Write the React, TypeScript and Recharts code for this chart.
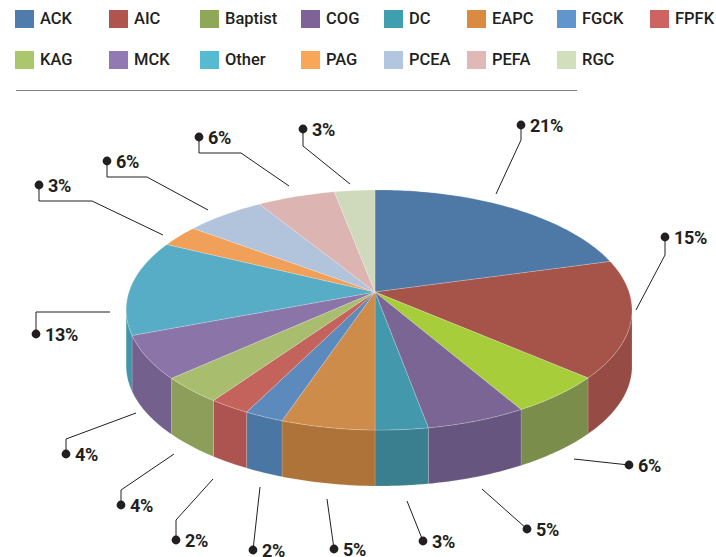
import React from "react";
import { PieChart, Pie, Legend } from "recharts";

const denominations = ["ACK", "AIC", "Baptist", "COG", "DC", "EAPC", "FGCK", "FPFK", "KAG", "MCK", "Other", "PAG", "PCEA", "PEFA", "RGC"];
// slice sizes as drawn, they do not always agree with the printed labels
const sliceSizes = [20.7, 15.6, 5.3, 5.5, 2.9, 5.2, 2.2, 2.3, 3.6, 5.9, 13, 3, 6, 5.8, 3];
const shareLabels = ["21%", "15%", "6%", "5%", "3%", "5%", "2%", "2%", "4%", "4%", "13%", "3%", "6%", "6%", "3%"];

const legendColors = ["#4F7CAC", "#B0554E", "#8FA858", "#7E6399", "#3F9FB0", "#D98B42", "#6195CC", "#CE6462", "#ABC76C", "#9379B3", "#55BBD3", "#F9A658", "#B3C6E0", "#E0B9B6", "#D2DFBD"];
const topColors = ["#4E79A6", "#A6544A", "#A7CE3A", "#7B6594", "#4498AC", "#CD8C4A", "#5D8ABD", "#C4625C", "#A8BE6E", "#8B74A8", "#58ADC6", "#F0A059", "#B2C3DC", "#DCB4B2", "#CFDABD"];
const wallColors = ["#3F6285", "#964C44", "#7A8D4B", "#66557E", "#3A7F8F", "#AE7339", "#4A76A3", "#AD5450", "#8C9E5A", "#73608D", "#3F95AB", "#C98444", "#8E9DB3", "#B09090", "#A5AF97"];

const legendLeft = [15, 109, 200, 301, 384, 467, 557, 650];
const FONT = "Roboto, sans-serif";
const INK = "#231F20";

// leader lines run from the dot out towards the slice
const leaders = [
  [[521, 125], [521, 140], [496, 194]],
  [[665, 237], [665, 255], [636, 310]],
  [[629, 465], [574, 459]],
  [[527, 529], [482, 489]],
  [[423, 541], [407, 501]],
  [[334, 549], [327, 499]],
  [[253, 550], [260, 487]],
  [[176, 540], [176, 520], [213, 479]],
  [[121, 505], [121, 490], [174, 454]],
  [[66, 454], [66, 439], [136, 413]],
  [[36, 334], [36, 312], [110, 312]],
  [[39, 185], [39, 201], [92, 201], [163, 235]],
  [[107, 161], [107, 177], [147, 177], [208, 210]],
  [[199, 137], [199, 153], [241, 153], [289, 186]],
  [[303, 129], [303, 146], [350, 184]],
];

const tableData = denominations.map((name, i) => ({
  name,
  value: sliceSizes[i],
  fill: legendColors[i],
  top: topColors[i],
  wall: wallColors[i],
}));

// perspective projection of the round pie, the centre sits above the middle of the ellipse
const RX = 250;
const RY = 117.3;
const TILT = 0.15;
const SKEW = -0.016;
const DEPTH = 56;

function rimPoint(cx: number, cy: number, deg: number) {
  const a = (deg * Math.PI) / 180;
  const X = Math.cos(a);
  const Y = Math.sin(a);
  const w = 1 + TILT * Y + SKEW * X;
  return { x: cx + (RX * X) / w, y: cy - (RY * Y) / w };
}

function findExtremes() {
  let right = 0;
  let left = 180;
  for (let d = -90; d <= 0; d += 0.5) {
    if (rimPoint(0, 0, d).x > rimPoint(0, 0, right).x) right = d;
  }
  for (let d = 180; d <= 270; d += 0.5) {
    if (rimPoint(0, 0, d).x < rimPoint(0, 0, left).x) left = d;
  }
  return { right, left: left - 360 };
}

// front of the pie runs from left extreme (about -190) to right extreme (about -10)
function Slice3D(props: any) {
  const { cx, cy, startAngle, endAngle, top, wall } = props;
  const pts = [];
  const lo = Math.min(startAngle, endAngle);
  const hi = Math.max(startAngle, endAngle);
  for (let d = hi; d > lo; d -= 1) pts.push(rimPoint(cx, cy, d));
  pts.push(rimPoint(cx, cy, lo));
  const topPath =
    `M${cx},${cy} ` + pts.map((p) => `L${p.x.toFixed(2)},${p.y.toFixed(2)}`).join(" ") + " Z";

  const { right, left } = findExtremes();
  const wallHi = Math.min(hi, right);
  const wallLo = Math.max(lo, left);
  let wallPath = "";
  if (wallHi > wallLo) {
    const front = [];
    for (let d = wallHi; d > wallLo; d -= 1) front.push(rimPoint(cx, cy, d));
    front.push(rimPoint(cx, cy, wallLo));
    const back = [...front].reverse().map((p) => ({ x: p.x, y: p.y + DEPTH }));
    wallPath =
      "M" + [...front, ...back].map((p) => `${p.x.toFixed(2)},${p.y.toFixed(2)}`).join(" L") + " Z";
  }
  return (
    <g>
      {wallPath && <path d={wallPath} fill={wall} stroke="#ffffff" strokeOpacity={0.3} strokeWidth={0.5} />}
      <path d={topPath} fill={top} stroke="#ffffff" strokeOpacity={0.4} strokeWidth={0.5} />
    </g>
  );
}

function LeaderLabel(props: any) {
  const { index } = props;
  const line = leaders[index];
  const dot = line[0];
  return (
    <g>
      <polyline points={line.map((p) => p.join(",")).join(" ")} fill="none" stroke={INK} strokeWidth={1} />
      <circle cx={dot[0]} cy={dot[1]} r={4.4} fill={INK} />
      <text x={dot[0] + 9} y={dot[1] + 6.5} fill={INK} fontFamily={FONT} fontWeight={700} fontSize={18} letterSpacing={-0.3}>
        {shareLabels[index]}
      </text>
    </g>
  );
}

function LegendBlock(props: any) {
  const payload = props.payload || [];
  return (
    <div style={{ position: "relative", width: 716, height: 95 }}>
      {payload.map((entry: any, i: number) => {
        const col = i % 8;
        const row = Math.floor(i / 8);
        return (
          <div key={entry.value} style={{ position: "absolute", left: legendLeft[col], top: 10 + row * 41, height: 18, display: "flex", alignItems: "center" }}>
            <span style={{ width: 19, height: 18, background: legendColors[i], display: "block" }} />
            <span style={{ marginLeft: 6, fontFamily: FONT, fontWeight: 500, fontSize: 16.5, color: INK, lineHeight: "18px", whiteSpace: "nowrap" }}>
              {entry.value}
            </span>
          </div>
        );
      })}
      <div style={{ position: "absolute", left: 16, top: 90, width: 561, borderTop: "1.5px solid #808080" }} />
    </div>
  );
}

export default function App() {
  return (
    <div style={{ position: "absolute", left: 0, top: 0, width: 716, height: 557, background: "#fff" }}>
      <PieChart width={716} height={557} margin={{ top: 0, right: 0, bottom: 0, left: 0 }}>
        <Legend
          layout="horizontal"
          align="center"
          verticalAlign="middle"
          content={<LegendBlock />}
          wrapperStyle={{ left: 0, top: 0, width: 716 }}
        />
        <Pie
          data={tableData}
          dataKey="value"
          nameKey="name"
          cx={375}
          cy={292}
          outerRadius={250}
          startAngle={90}
          endAngle={-270}
          paddingAngle={0}
          shape={<Slice3D />}
          label={<LeaderLabel />}
          labelLine={false}
          isAnimationActive={false}
        />
      </PieChart>
    </div>
  );
}
